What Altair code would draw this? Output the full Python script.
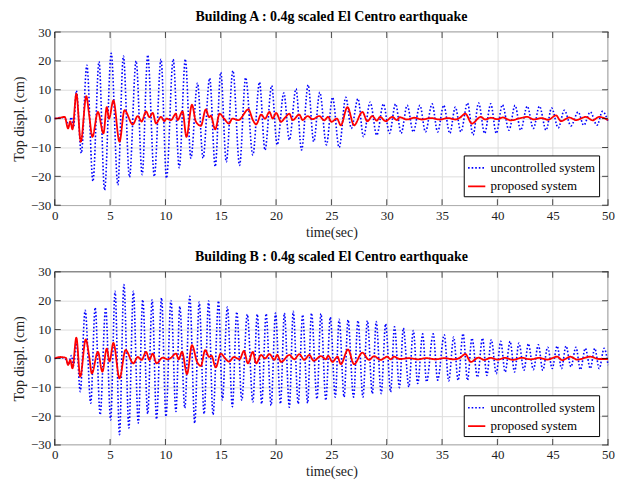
import altair as alt
import pandas as pd

# ---------------- data (local extremes) ----------------
SERIES = ["uncontrolled system", "proposed system"]

# Building A, uncontrolled (time s, displacement cm)
a_unc_t = [0, 0.6, 1.0, 1.25, 1.5, 1.7, 1.95, 2.4, 2.9, 3.45, 4.0, 4.5, 5.1, 5.7, 6.2, 6.75, 7.35, 7.9, 8.4, 9.0,
           9.6, 10.1, 10.7, 11.25, 11.8, 12.3, 12.9, 13.4, 14.0, 14.5, 15.0, 15.5, 16.1, 16.7, 17.25, 17.9, 18.5,
           19.0, 19.6, 20.1, 20.7, 21.2, 21.8, 22.3, 22.9, 23.4, 23.95, 24.55, 25.1, 25.7, 26.3, 26.8, 27.4, 27.9,
           28.5, 29.1, 29.7, 30.25, 30.8, 31.3, 31.85, 32.4, 33.0, 33.5, 34.1, 34.6, 35.15, 35.7, 36.2, 36.7, 37.3,
           37.8, 38.3, 38.85, 39.4, 39.9, 40.45, 41.05, 41.6, 42.1, 42.7, 43.25, 43.8, 44.4, 44.9, 45.5, 46.05,
           46.65, 47.3, 47.8, 48.4, 49.0, 49.5, 50]
a_unc_v = [0, 0.4, -0.3, -2.5, 0.5, -3, 9.7, -12, 18.5, -21.7, 19.7, -24.8, 22.6, -23, 21.7, -20.3, 20, -19.4, 22, -20,
           20.6, -20.6, 20.6, -17, 20.6, -13.7, 12.3, -13.7, 14, -16.6, 16, -15, 16.6, -16.2, 14.2, -12.6, 12.6,
           -10.9, 11.4, -9.1, 8.9, -7.4, 10.3, -10.9, 11.7, -8, 9.1, -9.1, 7.4, -10, 7.4, -3.4, 6.9, -6.3,
           5.7, -5.7, 5.1, -5.1, 5.1, -5.1, 4.6, -4.6, 4.6, -4.6, 5.1, -4.6, 4.6, -5.1, 4, -4.6, 5.4,
           -5.7, 5.4, -5.1, 5.1, -5.1, 4.8, -4, 4.6, -4, 4.3, -3.4, 4.3, -4, 3.7, -3.2, 2.9,
           -2.5, 2.3, -2.3, 2.3, -2.3, 2.5, -1]

# Building A, proposed
a_pro_t = [0, 0.5, 0.9, 1.2, 1.4, 1.6, 1.95, 2.35, 2.85, 3.1, 3.4, 3.9, 4.4, 4.7, 4.9, 5.3, 5.85, 6.3, 7.05, 7.5,
           7.85, 8.25, 8.55, 8.85, 9.15, 9.6, 9.9, 10.1, 10.5, 10.95, 11.1, 11.55, 11.9, 12.4, 12.75, 13.2, 13.65,
           13.95, 14.1, 14.5, 14.9, 15.3, 15.75, 16.05, 16.6, 17.5, 17.9, 18.2, 18.65, 19.0, 19.4, 19.7, 20.0,
           20.45, 20.8, 21.2, 21.5, 22.1, 22.4, 22.85, 23.3, 23.9, 24.35, 24.7, 25.0, 25.5, 25.85, 26.45, 27.05,
           27.8, 28.25, 28.7, 29.1, 29.4, 29.9, 30.5, 30.9, 31.2, 31.8, 32.5, 33.2, 34.0, 34.8, 35.5, 36.2, 36.6,
           37.1, 37.7, 38.5, 38.9, 39.4, 40.0, 40.5, 41.2, 42.0, 42.7, 43.3, 44.0, 44.6, 45.3, 45.75, 46.5, 47.1,
           48.0, 48.6, 49.2, 50]
a_pro_v = [0, 0.3, 0.6, -3.4, -1, -3.7, 8.6, -8, 7.8, 1.5, -6.3, 2.3, -5.1, 4, 0, 6.3, -8, 2.9, -2, 0.9,
           -1, 2.5, 0.5, 2, -1.7, 0.6, -0.9, 0, -0.5, 1.7, -0.5, 2.5, -6.3, 4.8, -1, -2.5, 3.2,
           0.5, 1, -3.7, 1.7, 0, -1.7, 0, -0.5, 3.2, -0.5, -2, 1.4, 0, 2.3, 0, 2,
           -1.1, 0.3, 1.7, -0.5, 1.4, -0.5, 0.9, -0.2, 0.9, -0.6, 0.6, -1.1, 0, -2.3, 4, -2.3,
           2.3, -0.9, 0.9, -0.7, 0.6, -0.9, 0.6, -0.5, 0.5, -0.3, 0.3, -0.3, 0.2, -0.3, 0.2, -0.3, 0.3,
           1.7, -1.7, 0.6, -0.3, 0.3, -0.2, 0.4, -0.6, 0.1, 0.6, -0.3, 0.2, -0.4, 1.1, -0.9, 0.4, -0.5,
           0.6, -0.6, 0.6, -0.5]

# Building B, uncontrolled
b_unc_t = [0, 0.6, 1.0, 1.25, 1.5, 1.7, 1.95, 2.3, 2.75, 3.25, 3.65, 4.1, 4.6, 5.05, 5.45, 5.85, 6.25, 6.7, 7.1,
           7.55, 7.95, 8.4, 8.8, 9.2, 9.65, 10.05, 10.5, 10.95, 11.3, 11.75, 12.2, 12.65, 13.05, 13.5, 13.9, 14.3,
           14.8, 15.15, 15.6, 16.05, 16.45, 16.9, 17.4, 17.9, 18.3, 18.7, 19.1, 19.55, 19.95, 20.4, 20.75, 21.2,
           21.55, 22.0, 22.4, 22.85, 23.2, 23.7, 24.05, 24.5, 24.9, 25.35, 25.7, 26.15, 26.5, 27.0, 27.4, 27.85,
           28.25, 28.7, 29.05, 29.5, 29.9, 30.35, 30.7, 31.15, 31.5, 32.0, 32.4, 32.8, 33.25, 33.6, 34.2, 34.6,
           35.2, 35.6, 36.05, 36.45, 36.9, 37.3, 37.7, 38.2, 38.65, 39.05, 39.45, 39.9, 40.3, 40.7, 41.15, 41.55,
           41.95, 42.4, 42.8, 43.25, 43.7, 44.1, 44.55, 44.95, 45.4, 45.8, 46.2, 46.65, 47.1, 47.5, 47.95, 48.4,
           48.8, 49.2, 49.65, 50]
b_unc_v = [0, 0.3, -0.3, -2, 1, -2.5, 6, -11.5, 16.7, -15.5, 17.6, -19.5, 17.6, -21.3, 23.3, -26.4, 25.6, -24.1, 23.3,
           -22.4, 20.3, -19.2, 20.3, -21, 21, -20.1, 20.1, -18.4, 18, -17.2, 21.5, -22.4, 19.5, -19.2, 19.9, -19.5,
           19.9, -14.4, 17.8, -16.7, 16.1, -14.5, 15.3, -15.1, 15.3, -15.7, 15.5, -16.3, 15.7, -15.7, 15.7, -16.9,
           16.3, -15.7, 15.1, -15.5, 15.7, -14, 15.5, -14.5, 14.3, -13.4, 13.6, -13.4, 13.4, -13.4, 13.1, -13.4,
           13.1, -12.2, 12.8, -12.2, 12, -11.6, 11, -10.1, 10.5, -9.9, 9.7, -8.7, 8.5, -8.1, 8.5, -7.5,
           8.2, -7.8, 7.4, -7.6, 8.6, -7.6, 7, -6.5, 7, -5.9, 6.5, -5.3, 5.9, -4.7, 5.9, -4.7,
           5.3, -4.1, 5.1, -3.9, 4.7, -4.1, 3.9, -3.5, 4.3, -3.5, 4.3, -2.9, 3.9, -3.9, 3.5, -3.5,
           3.5, -3.5, 3.5, -2.3]

# Building B, proposed
b_pro_t = [0, 0.5, 1.0, 1.2, 1.4, 1.6, 1.95, 2.3, 2.8, 3.1, 3.35, 3.9, 4.3, 4.7, 4.95, 5.3, 5.85, 6.4, 7.1, 7.5,
           7.85, 8.25, 8.55, 8.85, 9.2, 9.75, 10.2, 10.5, 10.95, 11.2, 11.5, 11.95, 12.4, 12.85, 13.2, 13.6, 13.95,
           14.15, 14.55, 15.0, 15.4, 15.75, 16.2, 16.7, 17.1, 17.45, 17.9, 18.2, 18.65, 19.0, 19.4, 19.85, 20.1,
           20.45, 21.2, 21.65, 22.1, 22.55, 23.0, 23.4, 24.05, 24.5, 24.7, 25.1, 25.55, 25.85, 26.5, 27.05, 27.8,
           28.4, 28.85, 29.45, 30.05, 30.35, 30.65, 31.2, 32.0, 32.8, 33.6, 34.4, 35.2, 36.0, 36.6, 37.1, 37.6,
           38.3, 38.8, 39.4, 40.0, 40.7, 41.4, 42.2, 43.0, 43.8, 44.5, 45.4, 45.85, 46.6, 47.2, 48.4, 49.2, 50]
b_pro_v = [0, 0.5, 0.2, -2.3, -0.6, -3.4, 7.2, -6.3, 6.6, 1, -5.2, 2.3, -4.6, 3.4, -1, 5.4, -6.9, 2.9, -1.7, 0.5,
           -0.5, 2.3, -0.5, 1.7, -1.7, 0.3, -0.3, 0.2, 1.7, -0.3, 2.3, -5.4, 4.6, -1.1, -2.6, 2.9, 0.5,
           1, -3.1, 1.7, 0, -1.1, 0.5, -0.3, 2.6, -1.7, 2.3, -1.7, 1.2, 0, 1.5, -0.5, 1.2,
           -1.2, 1.2, -0.3, 1.5, -0.5, 1.2, -0.8, 0.8, -0.3, 0.9, -1.2, 0.6, -2, 3.1, -2, 2,
           -0.5, 0.8, -0.5, 0.6, -0.3, 0.6, -0.2, 0.1, -0.3, 0.1, -0.3, 0.1, -0.3, 0.2, 1.5, -1.2,
           0.3, -0.5, 0.2, -0.4, 0.2, -0.5, 0.2, -0.3, 0.2, -0.4, 0.6, -0.6, 0.6, -0.4, 0.6, -0.2, -0.2]

x_ticks = [0, 5, 10, 15, 20, 25, 30, 35, 40, 45, 50]
y_ticks = [-30, -20, -10, 0, 10, 20, 30]

FONT = "Liberation Serif"
W, H = 556, 174


def frame_df(t_unc, v_unc, t_pro, v_pro):
    rows = []
    for i, (t, v) in enumerate(zip(t_unc, v_unc)):
        rows.append({"t": t, "v": v, "s": SERIES[0], "o": i})
    for i, (t, v) in enumerate(zip(t_pro, v_pro)):
        rows.append({"t": t, "v": v, "s": SERIES[1], "o": i})
    return pd.DataFrame(rows)


XS = alt.Scale(domain=[0, 50], nice=False, zero=False)
YS = alt.Scale(domain=[-30, 30], nice=False)
XAX = alt.Axis(values=x_ticks, title="time(sec)", grid=True, ticks=False,
               labelPadding=4, domain=False, labelOverlap=False, labelFlush=False)
YAX = alt.Axis(values=y_ticks, title="Top displ. (cm)", grid=True, ticks=False,
               labelPadding=4, domain=False, labelOverlap=False, labelFlush=False)


def panel(df, title):
    leg = alt.Legend(title=None, orient="bottom-right")
    lines = alt.Chart(df).mark_line(interpolate="monotone").encode(
        x=alt.X("t:Q", scale=XS, axis=XAX),
        y=alt.Y("v:Q", scale=YS, axis=YAX),
        color=alt.Color("s:N", scale=alt.Scale(domain=SERIES, range=["#0000ff", "#ff0000"]), legend=leg),
        strokeDash=alt.StrokeDash("s:N", scale=alt.Scale(domain=SERIES, range=[[1.6, 2], [1, 0]]), legend=leg),
        strokeWidth=alt.StrokeWidth("s:N", scale=alt.Scale(domain=SERIES, range=[1.6, 1.8]), legend=leg),
        detail="s:N",
        order="o:Q",
    )
    # inside tick marks (MATLAB style)
    tdf_x = pd.DataFrame({"t": x_ticks})
    tdf_y = pd.DataFrame({"v": y_ticks})
    tick_top = alt.Chart(tdf_x).mark_tick(orient="vertical", size=6, thickness=1, color="black", yOffset=3).encode(
        x=alt.X("t:Q", scale=XS, axis=XAX), y=alt.value(0))
    tick_bot = alt.Chart(tdf_x).mark_tick(orient="vertical", size=6, thickness=1, color="black", yOffset=-3).encode(
        x=alt.X("t:Q", scale=XS, axis=XAX), y=alt.value(H))
    tick_l = alt.Chart(tdf_y).mark_tick(orient="horizontal", size=6, thickness=1, color="black", xOffset=3).encode(
        y=alt.Y("v:Q", scale=YS, axis=YAX), x=alt.value(0))
    tick_r = alt.Chart(tdf_y).mark_tick(orient="horizontal", size=6, thickness=1, color="black", xOffset=-3).encode(
        y=alt.Y("v:Q", scale=YS, axis=YAX), x=alt.value(W))
    return alt.layer(lines, tick_top, tick_bot, tick_l, tick_r).properties(
        width=W, height=H,
        title=alt.TitleParams(title, font=FONT, fontSize=14, fontWeight="bold", color="black", offset=2),
    )


dfA = frame_df(a_unc_t, a_unc_v, a_pro_t, a_pro_v)
dfB = frame_df(b_unc_t, b_unc_v, b_pro_t, b_pro_v)

chart = alt.vconcat(
    panel(dfA, "Building A : 0.4g scaled El Centro earthquake"),
    panel(dfB, "Building B : 0.4g scaled El Centro earthquake"),
    spacing=9,
).resolve_scale(
    color="independent", strokeDash="independent", strokeWidth="independent"
).resolve_legend(
    color="independent", strokeDash="independent", strokeWidth="independent"
).properties(
    padding={"left": 4, "top": 0, "right": 0, "bottom": 0}
).configure_view(
    stroke="black", strokeWidth=1.2
).configure_axis(
    labelFont=FONT, titleFont=FONT, labelFontSize=13, titleFontSize=14,
    labelColor="#222222", titleColor="#222222", titleFontWeight="normal",
    gridColor="#dddddd", gridWidth=1, labelOverlap=False,
).configure_axisY(
    titlePadding=4
).configure_axisX(
    titlePadding=3
).configure_legend(
    labelFont=FONT, labelFontSize=13, labelColor="black", strokeColor="black", fillColor="white",
    padding=3, symbolType="stroke", symbolSize=300, rowPadding=1, offset=9, cornerRadius=0,
    labelLimit=300,
)

chart.save("out.html", embed_options={"renderer": "svg", "actions": False})
